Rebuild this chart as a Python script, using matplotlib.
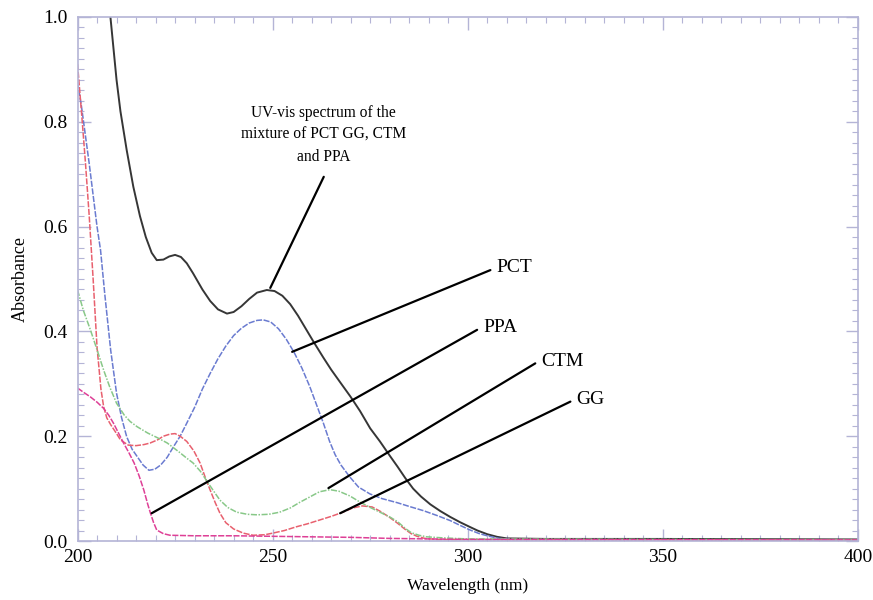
import matplotlib
matplotlib.use("Agg")
import matplotlib.pyplot as plt
from matplotlib.ticker import MultipleLocator

plt.rcParams['font.family'] = ['Liberation Serif', 'DejaVu Serif']

# --- DATA ---
mix_wl = [208.3, 210, 211, 212.6, 214.3, 216, 217.5, 219, 220.3, 222, 223.5, 225, 226.5, 228,
          229.6, 232, 234, 236, 238.3, 240, 242, 244, 246, 248.5, 250.5, 252.5, 254.5, 256.5,
          258.5, 260.5, 263, 265, 267.3, 270, 272.4, 275, 277.5, 280, 282, 284, 286, 288, 290.4,
          293, 295.5, 298, 300.5, 302.5, 305, 307.5, 310, 320, 350, 400]
mix_abs = [1.01, 0.88, 0.82, 0.746, 0.676, 0.62, 0.58, 0.55, 0.536, 0.537, 0.543, 0.546, 0.542, 0.53,
           0.511, 0.48, 0.458, 0.442, 0.434, 0.437, 0.448, 0.462, 0.474, 0.479, 0.477, 0.468, 0.452, 0.43,
           0.405, 0.38, 0.35, 0.327, 0.303, 0.275, 0.248, 0.215, 0.19, 0.163, 0.142, 0.12, 0.1, 0.085, 0.07,
           0.057, 0.046, 0.036, 0.027, 0.02, 0.013, 0.008, 0.005, 0.004, 0.004, 0.003]

pct_wl = [200, 201, 202, 203, 204, 205, 205.9, 207, 208.5, 210, 211.3, 212.6, 214, 215.3, 216.8,
          218.3, 219.8, 221.3, 223, 224.6, 226.3, 228, 230, 232, 234, 236, 238, 240, 242, 244, 246,
          247.6, 249.5, 251.5, 253.5, 255.5, 257.5, 259.5, 261.5, 263, 264.6, 266, 267.5, 269.8, 272,
          274.9, 278, 282, 285, 288.6, 292, 295.5, 298, 300.6, 303, 305.5, 308, 312, 400]
pct_abs = [0.875, 0.83, 0.775, 0.72, 0.66, 0.6, 0.555, 0.47, 0.364, 0.282, 0.235, 0.199, 0.175, 0.161, 0.145,
           0.135, 0.137, 0.145, 0.16, 0.18, 0.2, 0.225, 0.255, 0.29, 0.32, 0.348, 0.372, 0.392, 0.406, 0.416, 0.421,
           0.422, 0.418, 0.405, 0.385, 0.36, 0.33, 0.295, 0.255, 0.225, 0.19, 0.165, 0.145, 0.122, 0.103,
           0.09, 0.081, 0.073, 0.066, 0.058, 0.049, 0.039, 0.03, 0.021, 0.014, 0.009, 0.005, 0.003, 0.002]

gg_wl = [200, 201, 202, 203, 204, 205, 206, 206.7, 207.5, 208.5, 210, 211, 213, 215, 217, 218.6,
         220.5, 222, 223.7, 225, 226.3, 228, 229.8, 231.4, 232.8, 234, 235.3, 236.5, 238, 240, 242.5,
         245, 248, 250, 253, 256, 259, 262, 265, 268, 270.5, 273, 275.5, 277.5, 280, 282, 284, 285.5,
         287, 289, 292, 400]
gg_abs = [0.91, 0.82, 0.725, 0.62, 0.5, 0.37, 0.29, 0.256, 0.235, 0.222, 0.205, 0.193, 0.183, 0.182, 0.184, 0.187,
          0.193, 0.2, 0.204, 0.205, 0.2, 0.19, 0.172, 0.149, 0.12, 0.097, 0.073, 0.053, 0.035, 0.023, 0.015,
          0.011, 0.012, 0.015, 0.02, 0.027, 0.033, 0.04, 0.047, 0.055, 0.063, 0.067, 0.065, 0.057, 0.045, 0.034, 0.022, 0.014,
          0.009, 0.005, 0.003, 0.002]

ctm_wl = [200, 201.5, 203.3, 205, 206.7, 208.3, 210, 212, 213.5, 215.3, 218, 220.5, 223, 226, 228,
          229.6, 231.5, 233, 235, 236.5, 238.5, 240.8, 243.5, 246, 249, 251.8, 254.5, 257, 259.5, 262,
          264.7, 267, 269.8, 272, 275, 277.5, 280, 282, 284, 285.5, 287.5, 289.5, 293.6, 300, 400]
ctm_abs = [0.479, 0.44, 0.403, 0.365, 0.326, 0.293, 0.263, 0.24, 0.228, 0.218, 0.206, 0.197, 0.187, 0.17, 0.158,
           0.149, 0.133, 0.116, 0.094, 0.078, 0.064, 0.055, 0.051, 0.05, 0.051, 0.055, 0.063, 0.074, 0.084, 0.094,
           0.098, 0.095, 0.086, 0.076, 0.064, 0.055, 0.046, 0.037, 0.024, 0.016, 0.011, 0.008, 0.006, 0.004, 0.002]

ppa_wl = [200, 201.5, 203.3, 205, 206.7, 208, 209.2, 210.5, 211.8, 213.2, 214.5, 215.8, 217, 218,
          218.7, 219.5, 220.3, 222, 223.7, 230, 240, 250, 260, 270, 280, 290, 300, 400]
ppa_abs = [0.292, 0.284, 0.275, 0.265, 0.253, 0.24, 0.225, 0.206, 0.187, 0.168, 0.149, 0.124, 0.097, 0.07,
           0.053, 0.035, 0.021, 0.014, 0.011, 0.01, 0.01, 0.009, 0.008, 0.007, 0.005, 0.004, 0.003, 0.002]

# pointer labels: name, tip on curve, line end
label_names = ['PCT', 'PPA', 'CTM', 'GG']
label_tips = [(255.0, 0.361), (219.0, 0.053), (264.3, 0.101), (267.3, 0.053)]
label_ends = [(305.8, 0.517), (302.4, 0.403), (317.3, 0.339), (326.3, 0.266)]

mix_text = 'UV-vis spectrum of the\nmixture of PCT GG, CTM\nand PPA'
mix_tip = (249.4, 0.483)
mix_end = (263.1, 0.695)

# --- FIGURE ---
fig = plt.figure(figsize=(8.73, 6.0), dpi=100)
ax = fig.add_axes([0.0888, 0.0983, 0.894, 0.8734])

ax.plot(mix_wl, mix_abs, color='#363636', lw=1.4)
ax.plot(pct_wl, pct_abs, color='#6a7bd0', lw=1.1, dashes=(4, 1))
ax.plot(gg_wl, gg_abs, color='#e8606e', lw=1.1, dashes=(4, 1))
ax.plot(ctm_wl, ctm_abs, color='#88c888', lw=1.1, dashes=(4, 1, 1, 1))
ax.plot(ppa_wl, ppa_abs, color='#de3f96', lw=1.1, dashes=(4, 1))

# pointer lines and labels
for name, tip, end in zip(label_names, label_tips, label_ends):
    ax.annotate('', xy=tip, xytext=end,
                arrowprops=dict(arrowstyle='-', color='black', lw=1.6, shrinkA=0, shrinkB=0))
    ax.text(end[0] + 1.5, end[1] + 0.004, name, ha='left', va='center', fontsize=14)

ax.annotate('', xy=mix_tip, xytext=mix_end,
            arrowprops=dict(arrowstyle='-', color='black', lw=1.6, shrinkA=0, shrinkB=0))
ax.text(263.0, 0.775, mix_text, ha='center', va='center', multialignment='center',
        fontsize=11.2, linespacing=1.5)

# --- AXES STYLE ---
ax.set_xlim(200, 400)
ax.set_ylim(0, 1.0)
ax.xaxis.set_major_locator(MultipleLocator(50))
ax.xaxis.set_minor_locator(MultipleLocator(5))
ax.yaxis.set_major_locator(MultipleLocator(0.2))
ax.yaxis.set_minor_locator(MultipleLocator(0.02))
ax.xaxis.set_major_formatter(plt.FuncFormatter(lambda v, p: f'{v:.0f}'))
ax.yaxis.set_major_formatter(plt.FuncFormatter(lambda v, p: f'{v:.1f}'))

spine_col = '#b4b4d6'
for s in ax.spines.values():
    s.set_color(spine_col)
    s.set_linewidth(1.2)
ax.tick_params(which='both', direction='in', top=True, right=True, color=spine_col)
ax.tick_params(which='major', length=9, width=1.0, labelsize=14)
ax.tick_params(which='minor', length=4, width=0.8)
ax.tick_params(axis='x', which='major', pad=6)
ax.tick_params(axis='y', which='major', pad=7)

ax.set_xlabel('Wavelength (nm)', fontsize=12.5)
ax.set_ylabel('Absorbance', fontsize=13)
ax.xaxis.set_label_coords(0.5, -0.0706)
ax.yaxis.set_label_coords(-0.0624, 0.5)

fig.savefig('out.png', dpi=100)
